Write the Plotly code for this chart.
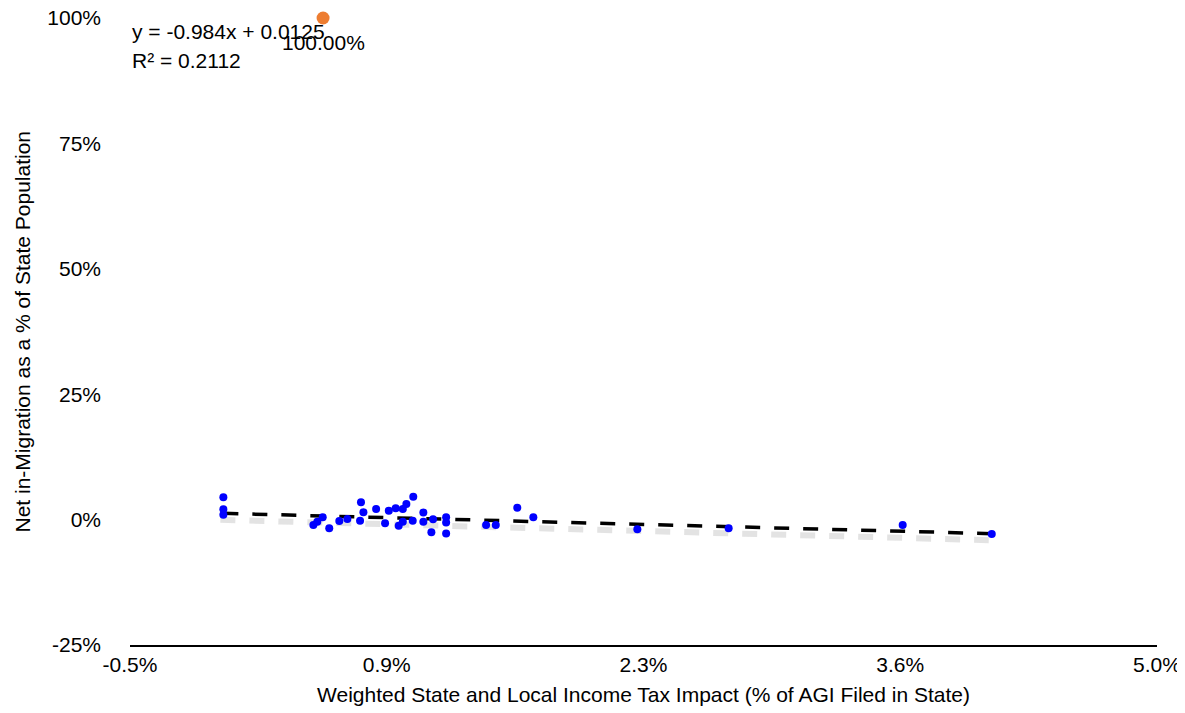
import plotly.graph_objects as go
import numpy as np

# Data (percent units)
tax_impact = [0.0, 0.0, 0.0, 0.482, 0.503, 0.532, 0.567, 0.621, 0.664, 0.732,
              0.737, 0.750, 0.818, 0.866, 0.886, 0.923, 0.939, 0.961, 0.961, 0.980,
              1.017, 1.014, 1.071, 1.071, 1.123, 1.114, 1.193, 1.193, 1.193, 1.407,
              1.459, 1.574, 1.660, 2.217, 2.706, 3.638, 4.115]
net_migration = [4.45, 2.05, 0.98, -1.08, -0.42, 0.46, -1.73, -0.28, 0.12, -0.22,
                 3.45, 1.46, 2.11, -0.74, 1.77, 2.25, -1.22, -0.42, 2.11, 3.11,
                 4.57, -0.22, 1.42, -0.42, 0.08, -2.53, 0.46, -0.58, -2.77, -1.08,
                 -1.08, 2.37, 0.46, -1.93, -1.73, -1.08, -2.87]

highlight_x = [0.534]
highlight_y = [100.0]
highlight_label = ["100.00%"]

slope = -0.984
intercept = 0.0125  # fraction
r_squared = 0.2112

x_ticks = [-0.5, 0.875, 2.25, 3.625, 5.0]
x_tick_labels = ["-0.5%", "0.9%", "2.3%", "3.6%", "5.0%"]
y_ticks = [-25, 0, 25, 50, 75, 100]
y_tick_labels = ["-25%", "0%", "25%", "50%", "75%", "100%"]

trend_x = np.array([min(tax_impact), max(tax_impact)])
trend_y = slope * trend_x + intercept * 100

FONT = "Liberation Sans, Arial, sans-serif"
FS = 21

fig = go.Figure()

# trendline shadow
fig.add_trace(go.Scatter(
    x=trend_x - 0.016, y=trend_y - 1.3, mode="lines",
    line=dict(color="rgba(185,185,185,0.4)", width=6, dash="15px,14px"),
    hoverinfo="skip", showlegend=False))
fig.add_trace(go.Scatter(
    x=trend_x, y=trend_y, mode="lines",
    line=dict(color="black", width=3.5, dash="15px,14px"),
    hoverinfo="skip", showlegend=False))

fig.add_trace(go.Scatter(
    x=tax_impact, y=net_migration, mode="markers",
    marker=dict(color="#0000FF", size=8),
    showlegend=False))

fig.add_trace(go.Scatter(
    x=highlight_x, y=highlight_y, mode="markers",
    marker=dict(color="#ED7D31", size=13),
    cliponaxis=False, showlegend=False))
fig.add_annotation(x=highlight_x[0], y=highlight_y[0], xref="x", yref="y",
                   text=highlight_label[0], showarrow=False,
                   xanchor="center", yanchor="middle", yshift=-24,
                   font=dict(family=FONT, size=FS, color="black"))

fig.add_annotation(x=-0.5, y=97.4, xref="x", yref="y",
                   text=f"y = {slope}x + {intercept}", showarrow=False,
                   xanchor="left", yanchor="middle",
                   font=dict(family=FONT, size=FS, color="black"))
fig.add_annotation(x=-0.5, y=91.6, xref="x", yref="y",
                   text=f"R² = {r_squared}", showarrow=False,
                   xanchor="left", yanchor="middle",
                   font=dict(family=FONT, size=FS, color="black"))

# y-axis title
fig.add_annotation(x=0, y=0.5, xref="paper", yref="paper", xshift=-108,
                   text="Net in-Migration as a % of State Population",
                   textangle=-90, showarrow=False,
                   xanchor="center", yanchor="middle",
                   font=dict(family=FONT, size=FS, color="black"))

fig.update_layout(
    width=1177, height=705,
    margin=dict(l=122, r=28, t=10, b=68),
    paper_bgcolor="white", plot_bgcolor="white",
    font=dict(family=FONT, size=FS, color="black"),
    xaxis=dict(range=[-0.5, 5.0], tickvals=x_ticks, ticktext=x_tick_labels,
               showgrid=False, zeroline=False, showline=True,
               linecolor="black", linewidth=2, ticks="", automargin=False,
               ticklabeloverflow="allow",
               title=dict(text="Weighted State and Local Income Tax Impact (% of AGI Filed in State)",
                          font=dict(size=FS), standoff=12)),
    yaxis=dict(range=[-25, 100], tickvals=y_ticks, ticktext=y_tick_labels,
               showgrid=False, zeroline=False, showline=False, ticks="",
               ticklabelstandoff=28, automargin=False,
               ticklabeloverflow="allow"),
)

fig.write_html("out.html")
